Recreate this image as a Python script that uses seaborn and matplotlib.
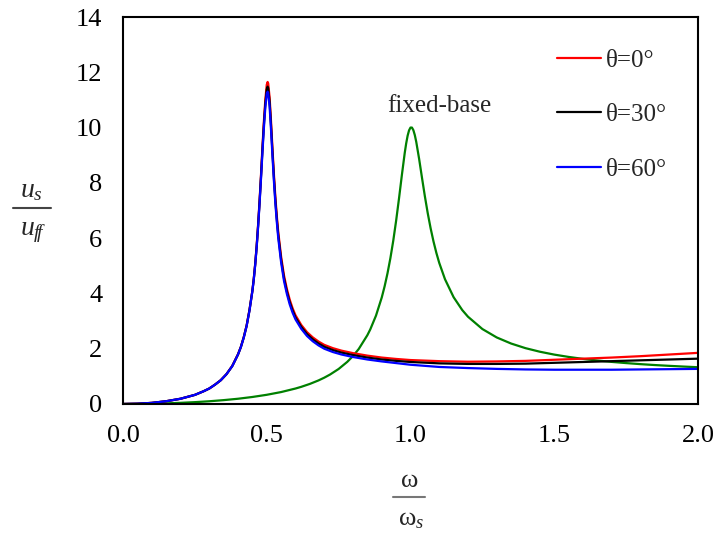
import numpy as np
import pandas as pd
import matplotlib
matplotlib.use("Agg")
import matplotlib.pyplot as plt
from matplotlib.lines import Line2D
import seaborn as sns

# Frequency ratio grid for the soil-structure (SSI) responses
omega_ssi = [0.0, 0.05, 0.1, 0.15, 0.2, 0.25, 0.28, 0.3, 0.32, 0.34, 0.36, 0.38,
             0.4, 0.41, 0.42, 0.43, 0.44, 0.45, 0.455, 0.46, 0.465, 0.47, 0.475,
             0.48, 0.485, 0.49, 0.495, 0.5, 0.503, 0.505, 0.51, 0.515, 0.52,
             0.525, 0.53, 0.535, 0.54, 0.55, 0.56, 0.57, 0.58, 0.59, 0.6, 0.62,
             0.64, 0.66, 0.68, 0.7, 0.73, 0.76, 0.8, 0.85, 0.9, 0.95, 1.0, 1.1,
             1.2, 1.3, 1.4, 1.5, 1.6, 1.7, 1.8, 1.9, 2.0]

ratio_theta0 = [0.0, 0.01, 0.04, 0.10, 0.19, 0.33, 0.46, 0.56, 0.70, 0.86, 1.08,
                1.38, 1.80, 2.07, 2.42, 2.84, 3.41, 4.10, 4.55, 5.09, 5.74, 6.50,
                7.36, 8.29, 9.30, 10.22, 11.00, 11.55, 11.65, 11.60, 11.08, 10.20,
                9.22, 8.30, 7.48, 6.80, 6.22, 5.33, 4.65, 4.16, 3.77, 3.46, 3.21,
                2.86, 2.60, 2.41, 2.26, 2.14, 2.02, 1.93, 1.84, 1.75, 1.68, 1.63,
                1.59, 1.55, 1.53, 1.54, 1.56, 1.60, 1.64, 1.68, 1.73, 1.79, 1.85]

ratio_theta30 = [0.0, 0.01, 0.04, 0.10, 0.19, 0.33, 0.46, 0.56, 0.70, 0.86, 1.08,
                 1.37, 1.79, 2.06, 2.41, 2.83, 3.40, 4.09, 4.53, 5.07, 5.71, 6.46,
                 7.30, 8.22, 9.20, 10.10, 10.86, 11.38, 11.48, 11.43, 10.92, 10.05,
                 9.08, 8.17, 7.36, 6.69, 6.11, 5.22, 4.55, 4.07, 3.68, 3.38, 3.13,
                 2.79, 2.53, 2.34, 2.19, 2.07, 1.95, 1.86, 1.77, 1.68, 1.61, 1.56,
                 1.52, 1.47, 1.45, 1.45, 1.46, 1.49, 1.52, 1.55, 1.58, 1.61, 1.64]

ratio_theta60 = [0.0, 0.01, 0.04, 0.10, 0.19, 0.33, 0.46, 0.56, 0.70, 0.86, 1.08,
                 1.37, 1.79, 2.06, 2.40, 2.82, 3.38, 4.08, 4.52, 5.05, 5.68, 6.42,
                 7.25, 8.15, 9.10, 9.98, 10.72, 11.22, 11.30, 11.25, 10.75, 9.90,
                 8.95, 8.05, 7.25, 6.58, 6.00, 5.12, 4.45, 3.98, 3.60, 3.30, 3.06,
                 2.72, 2.46, 2.27, 2.12, 2.00, 1.88, 1.79, 1.70, 1.61, 1.54, 1.48,
                 1.42, 1.34, 1.30, 1.27, 1.25, 1.24, 1.24, 1.24, 1.25, 1.26, 1.27]

# Fixed-base response
omega_fixed = [0.0, 0.05, 0.1, 0.15, 0.2, 0.25, 0.3, 0.35, 0.4, 0.45, 0.5, 0.55,
               0.6, 0.62, 0.65, 0.68, 0.7, 0.72, 0.75, 0.78, 0.8, 0.82, 0.85,
               0.86, 0.88, 0.9, 0.91, 0.92, 0.93, 0.94, 0.95, 0.96, 0.97, 0.98,
               0.985, 0.99, 0.995, 1.0, 1.005, 1.01, 1.015, 1.02, 1.03, 1.04,
               1.05, 1.06, 1.07, 1.08, 1.09, 1.1, 1.12, 1.15, 1.18, 1.2, 1.25,
               1.3, 1.35, 1.4, 1.45, 1.5, 1.55, 1.6, 1.65, 1.7, 1.75, 1.8, 1.85,
               1.9, 1.95, 2.0]
ratio_fixed = [0.0, 0.0025, 0.010, 0.023, 0.042, 0.067, 0.099, 0.140, 0.190,
               0.254, 0.333, 0.432, 0.560, 0.621, 0.727, 0.853, 0.952, 1.065,
               1.267, 1.524, 1.735, 1.991, 2.490, 2.697, 3.198, 3.853, 4.258,
               4.728, 5.273, 5.905, 6.630, 7.434, 8.283, 9.087, 9.428, 9.706,
               9.900, 10.0, 10.0, 9.906, 9.728, 9.483, 8.866, 8.182, 7.513,
               6.900, 6.356, 5.880, 5.465, 5.104, 4.513, 3.863, 3.398, 3.157,
               2.712, 2.407, 2.187, 2.020, 1.891, 1.787, 1.703, 1.632, 1.573,
               1.523, 1.480, 1.442, 1.409, 1.380, 1.354, 1.330]

series_labels = ["θ=0°", "θ=30°", "θ=60°"]
series_colors = ["#ff0000", "#000000", "#0000ff"]
x_ticks = [0.0, 0.5, 1.0, 1.5, 2.0]
y_ticks = [0, 2, 4, 6, 8, 10, 12, 14]

sns.set_style("white")
plt.rcParams["font.family"] = ["Liberation Serif", "DejaVu Serif"]
plt.rcParams["mathtext.fontset"] = "custom"
plt.rcParams["mathtext.rm"] = "Liberation Serif"
plt.rcParams["mathtext.it"] = "Liberation Serif:italic"

ssi = pd.concat([
    pd.DataFrame({"omega": omega_ssi, "ratio": vals, "case": lab})
    for vals, lab in zip([ratio_theta0, ratio_theta30, ratio_theta60], series_labels)
], ignore_index=True)
fixed = pd.DataFrame({"omega": omega_fixed, "ratio": ratio_fixed})

fig = plt.figure(figsize=(7.16, 5.33), dpi=100)
ax = fig.add_axes([123 / 716, 129 / 533, 575 / 716, 387 / 533])

sns.lineplot(data=fixed, x="omega", y="ratio", color="#008000", lw=1.6,
             estimator=None, sort=False, ax=ax, legend=False)
sns.lineplot(data=ssi, x="omega", y="ratio", hue="case", hue_order=series_labels,
             palette=series_colors, lw=1.6, estimator=None, sort=False,
             ax=ax, legend=False)

ax.set_xlim(0, 2)
ax.set_ylim(0, 14)
ax.set_xticks(x_ticks)
ax.set_xticklabels([f"{t:.1f}" for t in x_ticks])
ax.set_yticks(y_ticks)
ax.set_yticklabels([str(t) for t in y_ticks])
ax.tick_params(axis="both", direction="in", length=6, width=1.5,
               labelsize=19, color="black", labelcolor="black")
ax.tick_params(axis="x", pad=15)
ax.tick_params(axis="y", pad=15)
ax.set_xlabel("")
ax.set_ylabel("")
for sp in ax.spines.values():
    sp.set_visible(True)
    sp.set_color("black")
    sp.set_linewidth(1.5)

handles = [Line2D([], [], color=c, lw=1.6) for c in series_colors]
ax.legend(handles, series_labels, loc="upper left", bbox_to_anchor=(0.755, 0.917),
          frameon=False, fontsize=18, handlelength=1.75, handletextpad=0.2,
          labelspacing=1.28, borderpad=0, borderaxespad=0)

ax.text(1.10, 10.55, "fixed-base", ha="center", va="baseline", fontsize=18)

# y-axis label as a stacked fraction u_s / u_ff
def fig_xy(px, py):
    return px / 716, 1 - py / 533

fig.text(*fig_xy(31, 197), r"$u_{s}$", ha="center", va="baseline", fontsize=20)
fig.text(*fig_xy(33, 235), r"$u_{f\!f}$", ha="center", va="baseline", fontsize=20)
fig.add_artist(Line2D([13 / 716, 51 / 716], [1 - 207.7 / 533] * 2,
                      color="#444444", lw=1.5, transform=fig.transFigure))

# x-axis label as a stacked fraction omega / omega_s
fig.text(*fig_xy(410, 487), "ω", ha="center", va="baseline", fontsize=19)
fig.text(*fig_xy(411, 525), r"$\mathrm{ω}_{s}$", ha="center", va="baseline", fontsize=19)
fig.add_artist(Line2D([393 / 716, 425 / 716], [1 - 497.3 / 533] * 2,
                      color="#777777", lw=1.5, transform=fig.transFigure))

fig.savefig("out.png", dpi=100)
